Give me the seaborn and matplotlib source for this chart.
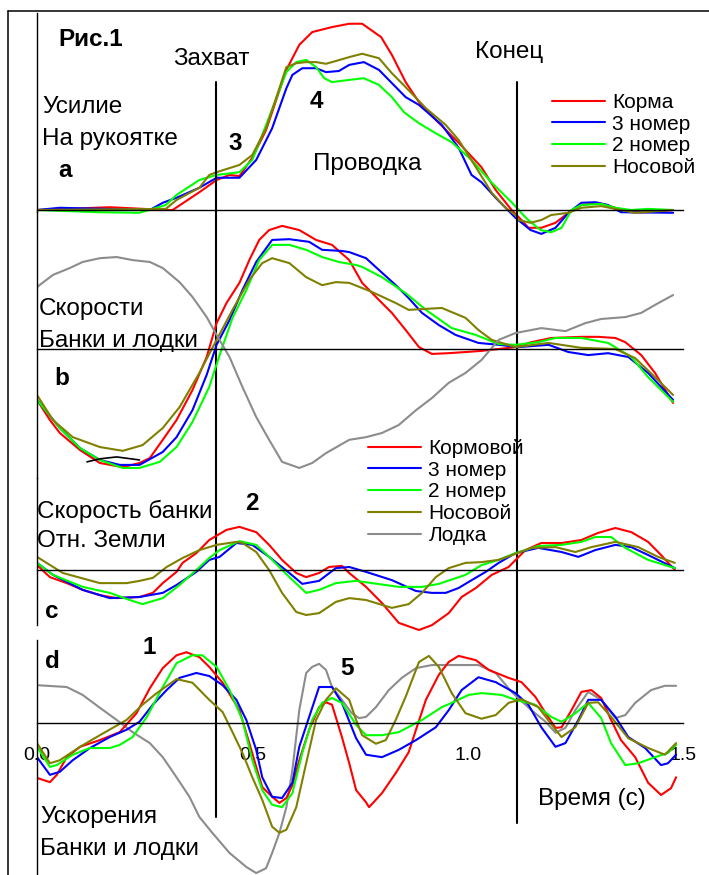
import matplotlib.pyplot as plt
import numpy as np
import seaborn as sns

# ---- data: time (s) and value (in tick units) ----
# a: handle force
a_red_t = [0, 0.169, 0.30, 0.315, 0.377, 0.417, 0.447, 0.47, 0.50, 0.532, 0.579, 0.609, 0.639, 0.685, 0.725, 0.755, 0.799,
           0.824, 0.856, 0.887, 0.926, 0.979, 1.032, 1.065, 1.102, 1.125, 1.141, 1.171, 1.204, 1.234, 1.264, 1.303, 1.343,
           1.380, 1.419, 1.477]
a_red_v = [0, 0.05, 0, 0, 0.32, 0.54, 0.63, 0.61, 0.94, 1.44, 2.52, 2.97, 3.20, 3.29, 3.35, 3.35, 3.11,
           2.79, 2.30, 1.94, 1.62, 1.21, 0.77, 0.36, 0, -0.18, -0.32, -0.32, -0.23, -0.05, 0.09, 0.13, 0.04,
           -0.04, -0.04, 0]
a_blue_t = [0, 0.053, 0.262, 0.292, 0.324, 0.377, 0.417, 0.470, 0.509, 0.546, 0.579, 0.593, 0.616, 0.648, 0.671, 0.701,
            0.725, 0.759, 0.794, 0.856, 0.887, 0.940, 0.979, 1.009, 1.032, 1.065, 1.111, 1.146, 1.171, 1.204, 1.234,
            1.264, 1.296, 1.326, 1.356, 1.477]
a_blue_v = [0, 0.04, 0, 0.13, 0.22, 0.40, 0.58, 0.58, 0.90, 1.47, 2.19, 2.43, 2.55, 2.55, 2.48, 2.50,
            2.61, 2.66, 2.52, 2.03, 1.89, 1.53, 1.12, 0.63, 0.50, 0.22, -0.14, -0.36, -0.43, -0.32, -0.05,
            0.13, 0.14, 0.09, -0.04, -0.05]
a_green_t = [0, 0.146, 0.238, 0.299, 0.324, 0.377, 0.417, 0.470, 0.500, 0.532, 0.579, 0.602, 0.625, 0.648, 0.667, 0.685,
             0.725, 0.759, 0.794, 0.824, 0.852, 0.887, 0.926, 0.963, 1.009, 1.056, 1.102, 1.134, 1.141, 1.169, 1.194,
             1.218, 1.241, 1.264, 1.310, 1.343, 1.380, 1.419, 1.477]
a_green_v = [0, -0.04, -0.05, 0.09, 0.27, 0.54, 0.63, 0.68, 0.90, 1.53, 2.48, 2.66, 2.70, 2.57, 2.37, 2.30,
             2.34, 2.37, 2.25, 2.03, 1.76, 1.56, 1.38, 1.22, 0.90, 0.49, 0.14, -0.13, -0.18, -0.36, -0.40,
             -0.32, 0, 0.09, 0.11, 0.04, 0, 0.02, 0]
a_olive_t = [0, 0.299, 0.324, 0.377, 0.400, 0.417, 0.470, 0.500, 0.532, 0.579, 0.602, 0.625, 0.648, 0.671, 0.694, 0.725,
             0.755, 0.794, 0.824, 0.856, 0.903, 0.949, 0.979, 1.019, 1.056, 1.088, 1.111, 1.118, 1.146, 1.171, 1.194,
             1.234, 1.264, 1.310, 1.356, 1.389, 1.477]
a_olive_v = [0, 0.02, 0.18, 0.40, 0.63, 0.68, 0.81, 0.99, 1.47, 2.57, 2.64, 2.66, 2.66, 2.63, 2.68, 2.75,
             2.81, 2.73, 2.46, 2.21, 1.83, 1.53, 1.26, 0.77, 0.31, 0.04, -0.09, -0.18, -0.23, -0.18, -0.09,
             -0.05, 0.04, 0.07, 0, -0.05, 0]

# b: seat and boat velocities
b_red_t = [0, 0.030, 0.053, 0.100, 0.146, 0.199, 0.238, 0.262, 0.292, 0.324, 0.361, 0.394, 0.417, 0.440, 0.470, 0.493,
           0.516, 0.539, 0.569, 0.609, 0.648, 0.685, 0.725, 0.755, 0.794, 0.824, 0.856, 0.887, 0.917, 0.956, 0.995,
           1.032, 1.072, 1.111, 1.148, 1.194, 1.264, 1.303, 1.343, 1.366, 1.403, 1.435, 1.477]
b_red_v = [-1.34, -1.87, -2.21, -2.66, -3.0, -3.11, -3.0, -2.87, -2.39, -1.87, -1.08, -0.21, 0.68, 1.21, 1.74, 2.34,
           2.87, 3.13, 3.24, 3.13, 2.87, 2.74, 2.34, 1.74, 1.29, 0.95, 0.50, 0.05, -0.13, -0.11, -0.08,
           -0.05, 0, 0.05, 0.18, 0.29, 0.32, 0.32, 0.29, 0.18, -0.16, -0.63, -1.42]
b_blue_t = [0, 0.053, 0.100, 0.146, 0.192, 0.238, 0.292, 0.324, 0.361, 0.394, 0.417, 0.447, 0.477, 0.509, 0.546, 0.586,
            0.632, 0.662, 0.708, 0.725, 0.764, 0.794, 0.833, 0.863, 0.894, 0.933, 0.972, 1.025, 1.072, 1.118, 1.188,
            1.234, 1.280, 1.326, 1.373, 1.419, 1.477]
b_blue_v = [-1.34, -2.08, -2.61, -2.92, -3.05, -3.05, -2.71, -2.32, -1.61, -0.68, 0.11, 0.76, 1.55, 2.29, 2.87, 2.89,
            2.82, 2.61, 2.58, 2.55, 2.39, 2.08, 1.68, 1.34, 0.95, 0.63, 0.37, 0.16, 0.11, 0.05, 0.11,
            -0.08, -0.16, -0.11, -0.21, -0.63, -1.34]
b_green_t = [0, 0.053, 0.100, 0.146, 0.199, 0.238, 0.285, 0.324, 0.361, 0.400, 0.424, 0.454, 0.486, 0.516, 0.546, 0.586,
             0.625, 0.662, 0.701, 0.741, 0.755, 0.801, 0.856, 0.903, 0.963, 1.019, 1.072, 1.111, 1.164, 1.204, 1.264,
             1.326, 1.380, 1.419, 1.477]
b_green_v = [-1.34, -2.08, -2.61, -2.92, -3.13, -3.13, -2.97, -2.58, -1.92, -1.0, -0.16, 0.82, 1.55, 2.34, 2.74, 2.74,
             2.61, 2.42, 2.29, 2.21, 2.16, 1.89, 1.47, 1.03, 0.55, 0.37, 0.13, 0.11, 0.18, 0.29, 0.29,
             0.16, -0.21, -0.74, -1.39]
b_olive_t = [0, 0.037, 0.083, 0.146, 0.199, 0.245, 0.292, 0.331, 0.377, 0.417, 0.454, 0.493, 0.523, 0.546, 0.586, 0.625,
             0.662, 0.694, 0.725, 0.778, 0.833, 0.863, 0.940, 0.995, 1.025, 1.056, 1.111, 1.188, 1.264, 1.343, 1.389,
             1.435, 1.477]
b_olive_v = [-1.21, -1.87, -2.32, -2.58, -2.68, -2.53, -2.08, -1.53, -0.63, 0.24, 1.03, 1.82, 2.26, 2.39, 2.26, 1.89,
             1.68, 1.76, 1.74, 1.50, 1.21, 1.03, 1.08, 0.82, 0.50, 0.24, 0.05, 0.16, 0.03, 0, -0.24,
             -0.74, -1.21]
b_gray_t = [0, 0.037, 0.076, 0.106, 0.146, 0.185, 0.222, 0.262, 0.292, 0.331, 0.361, 0.394, 0.417, 0.447, 0.477, 0.509,
            0.539, 0.569, 0.609, 0.639, 0.671, 0.725, 0.764, 0.801, 0.840, 0.880, 0.917, 0.956, 0.995, 1.032, 1.072,
            1.111, 1.171, 1.227, 1.273, 1.310, 1.366, 1.403, 1.435, 1.477]
b_gray_v = [1.63, 1.95, 2.13, 2.29, 2.39, 2.42, 2.34, 2.29, 2.13, 1.76, 1.37, 0.84, 0.37, -0.21, -1.0, -1.79,
            -2.39, -2.97, -3.13, -3.0, -2.74, -2.39, -2.32, -2.21, -2.0, -1.61, -1.29, -0.89, -0.63, -0.29, 0.24,
            0.42, 0.55, 0.47, 0.68, 0.79, 0.84, 0.95, 1.16, 1.42]
b_black_t = [0.116, 0.146, 0.185, 0.238]
b_black_v = [-2.97, -2.89, -2.84, -2.92]

# c: seat velocity relative to ground
c_red_t = [0, 0.030, 0.069, 0.106, 0.146, 0.185, 0.238, 0.269, 0.292, 0.324, 0.338, 0.370, 0.400, 0.440, 0.470, 0.509,
           0.539, 0.569, 0.602, 0.625, 0.655, 0.678, 0.708, 0.725, 0.764, 0.801, 0.840, 0.887, 0.917, 0.956, 0.986,
           1.019, 1.056, 1.095, 1.134, 1.171, 1.218, 1.264, 1.303, 1.343, 1.380, 1.419, 1.449, 1.481]
c_red_v = [0.13, -0.19, -0.35, -0.53, -0.67, -0.75, -0.72, -0.61, -0.35, -0.05, 0.19, 0.45, 0.80, 1.07, 1.15, 1.01,
           0.67, 0.27, -0.08, -0.19, -0.08, 0.08, 0.11, -0.08, -0.45, -0.88, -1.41, -1.6, -1.47, -1.15, -0.72,
           -0.48, -0.13, 0.08, 0.53, 0.72, 0.72, 0.80, 0.99, 1.12, 1.01, 0.75, 0.40, 0]
c_blue_t = [0, 0.037, 0.106, 0.169, 0.238, 0.292, 0.324, 0.370, 0.400, 0.424, 0.463, 0.500, 0.539, 0.586, 0.616, 0.655,
            0.694, 0.725, 0.764, 0.824, 0.880, 0.917, 0.949, 0.979, 1.002, 1.042, 1.072, 1.111, 1.164, 1.218, 1.257,
            1.296, 1.343, 1.380, 1.419, 1.481]
c_blue_v = [0.19, -0.13, -0.53, -0.75, -0.72, -0.61, -0.40, -0.05, 0.27, 0.35, 0.72, 0.67, 0.35, -0.08, -0.37, -0.29,
            0.05, 0.08, -0.05, -0.27, -0.56, -0.61, -0.61, -0.48, -0.32, -0.05, 0.19, 0.45, 0.59, 0.48, 0.35,
            0.53, 0.67, 0.61, 0.40, 0.05]
c_green_t = [0, 0.037, 0.106, 0.169, 0.215, 0.245, 0.292, 0.331, 0.370, 0.400, 0.424, 0.470, 0.509, 0.539, 0.586, 0.625,
             0.655, 0.694, 0.741, 0.778, 0.840, 0.894, 0.933, 0.995, 1.032, 1.072, 1.111, 1.164, 1.218, 1.264, 1.296,
             1.333, 1.366, 1.419, 1.481]
c_green_v = [0.19, -0.13, -0.45, -0.61, -0.80, -0.91, -0.75, -0.40, 0, 0.32, 0.53, 0.77, 0.67, 0.35, -0.19, -0.61,
             -0.53, -0.35, -0.29, -0.35, -0.45, -0.45, -0.37, -0.13, 0.13, 0.27, 0.45, 0.64, 0.67, 0.75, 0.88,
             0.88, 0.59, 0.27, 0.05]
c_olive_t = [0, 0.060, 0.146, 0.208, 0.238, 0.269, 0.301, 0.338, 0.377, 0.417, 0.463, 0.477, 0.509, 0.539, 0.569, 0.602,
             0.625, 0.655, 0.694, 0.725, 0.764, 0.801, 0.824, 0.863, 0.894, 0.926, 0.956, 0.995, 1.032, 1.072, 1.111,
             1.148, 1.204, 1.250, 1.287, 1.343, 1.396, 1.442, 1.481]
c_olive_v = [0.35, -0.08, -0.35, -0.35, -0.29, -0.21, 0.08, 0.32, 0.53, 0.67, 0.75, 0.72, 0.48, 0, -0.61, -1.12,
             -1.2, -1.15, -0.85, -0.75, -0.80, -0.93, -1.01, -0.91, -0.61, -0.19, 0.05, 0.19, 0.21, 0.27, 0.43,
             0.59, 0.61, 0.48, 0.61, 0.75, 0.61, 0.35, 0.19]

# d: seat and boat accelerations
d_red_t = [0, 0.030, 0.046, 0.069, 0.100, 0.146, 0.192, 0.231, 0.262, 0.292, 0.324, 0.347, 0.377, 0.400, 0.431, 0.470,
           0.493, 0.509, 0.523, 0.546, 0.563, 0.579, 0.593, 0.609, 0.632, 0.655, 0.671, 0.685, 0.708, 0.725, 0.741,
           0.764, 0.771, 0.801, 0.833, 0.863, 0.880, 0.903, 0.933, 0.956, 0.979, 1.019, 1.049, 1.095, 1.125, 1.157,
           1.181, 1.204, 1.218, 1.241, 1.264, 1.287, 1.310, 1.333, 1.356, 1.389, 1.419, 1.449, 1.472, 1.484]
d_red_v = [-0.90, -0.97, -0.85, -0.56, -0.39, -0.28, -0.15, 0.16, 0.57, 0.90, 1.11, 1.16, 1.08, 0.92, 0.66, 0.21,
           -0.33, -0.72, -1.05, -1.21, -1.31, -1.23, -1.02, -0.61, -0.11, 0.26, 0.34, 0.30, -0.23, -0.66, -1.10,
           -1.30, -1.38, -1.15, -0.82, -0.48, -0.11, 0.38, 0.79, 1.0, 1.10, 1.03, 0.87, 0.74, 0.67, 0.43,
           0.16, -0.08, -0.07, 0.21, 0.51, 0.54, 0.41, 0.05, -0.28, -0.56, -0.98, -1.18, -1.07, -0.89]
d_blue_t = [0, 0.030, 0.053, 0.083, 0.123, 0.169, 0.208, 0.238, 0.269, 0.301, 0.331, 0.370, 0.400, 0.431, 0.463, 0.486,
            0.509, 0.523, 0.546, 0.569, 0.593, 0.609, 0.632, 0.655, 0.685, 0.708, 0.741, 0.764, 0.801, 0.840, 0.880,
            0.926, 0.956, 0.986, 1.025, 1.065, 1.111, 1.141, 1.171, 1.204, 1.227, 1.257, 1.280, 1.310, 1.343, 1.373,
            1.412, 1.449, 1.465, 1.484]
d_blue_v = [-0.56, -0.85, -0.80, -0.61, -0.41, -0.23, -0.11, 0.02, 0.30, 0.54, 0.74, 0.82, 0.77, 0.62, 0.38, 0.05,
            -0.44, -0.89, -1.21, -1.23, -0.98, -0.39, 0.10, 0.59, 0.59, 0.33, -0.25, -0.52, -0.56, -0.44, -0.28,
            -0.07, 0.21, 0.54, 0.75, 0.67, 0.49, 0.30, -0.07, -0.39, -0.33, 0.05, 0.38, 0.38, 0.10, -0.23,
            -0.41, -0.69, -0.66, -0.52]
d_green_t = [0, 0.030, 0.046, 0.083, 0.123, 0.169, 0.192, 0.222, 0.255, 0.292, 0.324, 0.361, 0.384, 0.417, 0.447, 0.477,
             0.500, 0.523, 0.546, 0.569, 0.593, 0.616, 0.639, 0.662, 0.685, 0.708, 0.741, 0.764, 0.801, 0.840, 0.894,
             0.940, 0.963, 1.002, 1.032, 1.079, 1.111, 1.157, 1.194, 1.218, 1.250, 1.280, 1.310, 1.333, 1.366, 1.396,
             1.435, 1.465, 1.484]
d_green_v = [-0.39, -0.72, -0.69, -0.52, -0.41, -0.41, -0.36, -0.23, 0.10, 0.59, 0.98, 1.11, 1.11, 0.92, 0.54, 0.05,
             -0.61, -1.10, -1.34, -1.38, -1.15, -0.49, 0.05, 0.33, 0.41, 0.33, -0.03, -0.20, -0.20, -0.15, 0.05,
             0.26, 0.33, 0.46, 0.49, 0.46, 0.38, 0.30, 0.10, 0.02, 0.16, 0.33, 0.08, -0.33, -0.69, -0.66,
             -0.56, -0.49, -0.36]
d_olive_t = [0, 0.030, 0.053, 0.100, 0.146, 0.208, 0.245, 0.278, 0.324, 0.361, 0.400, 0.431, 0.454, 0.477, 0.500, 0.523,
             0.546, 0.563, 0.579, 0.602, 0.625, 0.648, 0.671, 0.694, 0.725, 0.741, 0.755, 0.787, 0.810, 0.833, 0.856,
             0.887, 0.910, 0.933, 0.963, 0.995, 1.032, 1.065, 1.095, 1.125, 1.164, 1.204, 1.218, 1.250, 1.280, 1.303,
             1.333, 1.373, 1.419, 1.458, 1.484]
d_olive_v = [-0.33, -0.66, -0.61, -0.39, -0.20, 0.05, 0.30, 0.49, 0.72, 0.66, 0.38, 0.18, -0.15, -0.49, -0.89, -1.26,
             -1.70, -1.80, -1.75, -1.38, -0.66, 0.05, 0.38, 0.57, 0.38, 0.05, -0.20, -0.34, -0.28, 0.05, 0.43,
             1.0, 1.10, 0.92, 0.49, 0.16, 0.07, 0.13, 0.33, 0.39, 0.26, -0.11, -0.23, -0.07, 0.33, 0.34,
             0.10, -0.25, -0.41, -0.52, -0.33]
d_gray_t = [0, 0.069, 0.106, 0.146, 0.185, 0.222, 0.262, 0.292, 0.324, 0.354, 0.377, 0.407, 0.447, 0.486, 0.509, 0.532,
            0.546, 0.563, 0.579, 0.593, 0.609, 0.625, 0.639, 0.655, 0.671, 0.685, 0.708, 0.731, 0.748, 0.764, 0.787,
            0.817, 0.847, 0.880, 0.917, 0.995, 1.025, 1.065, 1.102, 1.148, 1.181, 1.204, 1.227, 1.250, 1.280, 1.310,
            1.343, 1.366, 1.389, 1.426, 1.458, 1.484]
d_gray_v = [0.62, 0.59, 0.46, 0.25, 0.05, -0.15, -0.33, -0.56, -0.89, -1.21, -1.54, -1.80, -2.13, -2.36, -2.46, -2.38,
            -2.13, -1.80, -1.38, -0.77, 0.21, 0.82, 0.92, 0.97, 0.87, 0.59, 0.38, 0.16, 0.08, 0.10, 0.26,
            0.54, 0.74, 0.90, 0.95, 0.95, 0.95, 0.82, 0.51, 0.21, 0.02, -0.16, -0.08, 0.21, 0.51, 0.38,
            0.08, 0.13, 0.33, 0.54, 0.61, 0.61]

legend_a = ["Корма", "3 номер", "2 номер", "Носовой"]
legend_bcd = ["Кормовой", "3 номер", "2 номер", "Носовой", "Лодка"]
catch_t = 0.415
finish_t = 1.114

RED, BLUE, GREEN, OLIVE, GRAY = "#ff0000", "#0000ff", "#00ff00", "#808000", "#8c8c8c"

sns.set_style("white")
plt.rcParams['font.family'] = ['Liberation Sans', 'DejaVu Sans']
plt.rcParams['text.color'] = 'black'
plt.rcParams['xtick.color'] = 'black'
plt.rcParams['ytick.color'] = 'black'

W, H = 709, 875
fig = plt.figure(figsize=(W / 100, H / 100), dpi=100)


def panel(zero_px, unit_px, spine_px, yticks):
    # every panel spans the full figure so all of them share one pixel grid
    ax = fig.add_axes([37 / W, 0, 646 / W, 1])
    ax.set_xlim(0, 1.5)
    ax.set_ylim((zero_px - H) / unit_px, zero_px / unit_px)
    ax.patch.set_alpha(0)
    for s in ("top", "right"):
        ax.spines[s].set_visible(False)
    ax.spines["bottom"].set_position(("data", 0))
    ax.spines["bottom"].set_bounds(0, 1.5)
    top, bot = spine_px
    ax.spines["left"].set_bounds((zero_px - bot) / unit_px, (zero_px - top) / unit_px)
    for s in ("bottom", "left"):
        ax.spines[s].set_linewidth(1.0)
        ax.spines[s].set_color("black")
    ax.set_yticks(yticks)
    ax.set_yticklabels([])
    ax.set_xticks(np.arange(0, 1.51, 0.1))
    ax.set_xticklabels([])
    ax.tick_params(direction="out", length=5, width=1.0, color="black")
    ax.set_xlabel("")
    ax.set_ylabel("")
    return ax


def curve(ax, t, v, color, label=None, lw=1.5):
    sns.lineplot(x=t, y=v, ax=ax, color=color, linewidth=lw, sort=False, estimator=None, label=label)


ax_a = panel(210, 55.6, (13, 212), [0.5, 1.5, 2.5, 3.5])
curve(ax_a, a_red_t, a_red_v, RED, legend_a[0])
curve(ax_a, a_blue_t, a_blue_v, BLUE, legend_a[1])
curve(ax_a, a_green_t, a_green_v, GREEN, legend_a[2])
curve(ax_a, a_olive_t, a_olive_v, OLIVE, legend_a[3])

ax_b = panel(349, 38, (212, 478), [-3, -2, -1, 0, 1, 2, 3])
curve(ax_b, b_red_t, b_red_v, RED, legend_bcd[0])
curve(ax_b, b_blue_t, b_blue_v, BLUE, legend_bcd[1])
curve(ax_b, b_green_t, b_green_v, GREEN, legend_bcd[2])
curve(ax_b, b_olive_t, b_olive_v, OLIVE, legend_bcd[3])
curve(ax_b, b_gray_t, b_gray_v, GRAY, legend_bcd[4])
curve(ax_b, b_black_t, b_black_v, "black", lw=1.2)

ax_c = panel(570, 37.5, (478, 625), [-1, 0, 1])
curve(ax_c, c_red_t, c_red_v, RED)
curve(ax_c, c_blue_t, c_blue_v, BLUE)
curve(ax_c, c_green_t, c_green_v, GREEN)
curve(ax_c, c_olive_t, c_olive_v, OLIVE)

ax_d = panel(723, 61, (640, 875), [-2, -1, 0, 1])
curve(ax_d, d_gray_t, d_gray_v, GRAY)
curve(ax_d, d_red_t, d_red_v, RED)
curve(ax_d, d_blue_t, d_blue_v, BLUE)
curve(ax_d, d_green_t, d_green_v, GREEN)
curve(ax_d, d_olive_t, d_olive_v, OLIVE)
ax_d.set_xticks([0, 0.5, 1.0, 1.5], labels=["0.0", "0.5", "1.0", "1.5"])
ax_d.set_xticks(np.arange(0, 1.51, 0.1), minor=True)
ax_d.tick_params(axis="x", which="both", direction="out", length=5, width=1.0, pad=12,
                 labelsize=14, labelcolor="black")

# phase markers (catch / finish) across all panels
for t, bottom in ((catch_t, 817), (finish_t, 823)):
    ax_a.axvline(t, ymin=1 - bottom / H, ymax=1 - 82 / H, color="black", linewidth=1.5)

# legends
leg_kw = dict(loc="upper left", bbox_transform=fig.transFigure, frameon=False, borderpad=0,
              borderaxespad=0, handlelength=2.55, handletextpad=0.35, labelspacing=0.13, fontsize=15)
h, l = ax_a.get_legend_handles_labels()
ax_a.legend(h, l, bbox_to_anchor=(552 / W, 1 - 93 / H), **leg_kw)
h, l = ax_b.get_legend_handles_labels()
ax_b.legend(h[:5], l[:5], bbox_to_anchor=(368 / W, 1 - 439 / H), **leg_kw)
for ax in (ax_c, ax_d):
    if ax.get_legend():
        ax.get_legend().remove()


def put(x, y, s, bold=False, size=17.5):
    fig.text(x / W, 1 - y / H, s, ha="left", va="baseline", fontsize=size,
             fontweight="bold" if bold else "normal")


put(58, 46, "Рис.1", bold=True)
put(173, 65, "Захват")
put(475, 58, "Конец")
put(42, 113, "Усилие")
put(42, 145, "На рукоятке")
put(58, 177, "a", bold=True)
put(228, 150, "3", bold=True)
put(310, 108, "4", bold=True)
put(313, 170, "Проводка")
put(39, 315, "Скорости")
put(39, 347, "Банки и лодки")
put(54, 385, "b", bold=True)
put(37, 518, "Скорость банки")
put(37, 547, "Отн. Земли")
put(245, 510, "2", bold=True)
put(45, 618, "c", bold=True)
put(45, 668, "d", bold=True)
put(143, 654, "1", bold=True)
put(340, 675, "5", bold=True)
put(40, 823, "Ускорения")
put(40, 855, "Банки и лодки")
put(538, 805, "Время (с)")

# outer frame of the scanned figure
fig.add_artist(plt.Line2D([8 / W, 1], [1 - 11 / H, 1 - 11 / H], color="black", linewidth=1.1))
fig.add_artist(plt.Line2D([8 / W, 8 / W], [0, 1 - 11 / H], color="black", linewidth=1.1))

fig.savefig("out.png", dpi=100)
